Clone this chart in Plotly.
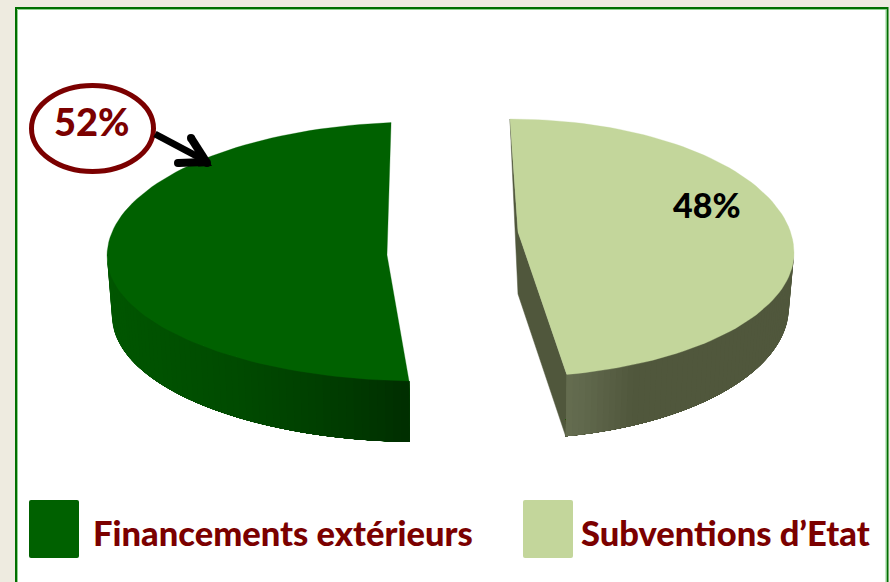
import math
import plotly.graph_objects as go

CATEGORIES = ["Financements extérieurs", "Subventions d’Etat"]
VALUES = [52, 48]
TOP_COLORS = ["#006100", "#C3D69B"]
WALL_RAMPS = [
    [(0.0, (0, 86, 0)), (0.45, (0, 74, 0)), (0.8, (0, 58, 0)), (1.0, (0, 46, 0))],
    [(0.0, (101, 109, 80)), (0.08, (96, 104, 76)), (0.3, (80, 87, 60)), (1.0, (80, 87, 60))],
]
CUT_COLOR = "#50573C"

# projected pie geometry (pixels of the 890x582 page)
GEOM = [
    dict(cx=420, cy=256, rx=313, back=134, front=125, lcx=420, lcy=316, lrx=308, lback=126, lfront=126,
         start=-5.3, direction=-1, squeeze=0.9225, apex=(387, 255), depth=62, wall_from=-90),
    dict(cx=510, cy=253, rx=284, back=134, front=124, lcx=510, lcy=307, lrx=279, lback=132, lfront=132,
         start=0.0, direction=1, squeeze=0.975, apex=(518, 232), depth=62, wall_from=90),
]
STEPS = 90
BANDS = 60


def pt(cx, cy, rx, back, front, deg):
    a = math.radians(deg)
    c = math.cos(a)
    return cx + rx * math.sin(a), cy - (back if c > 0 else front) * c


def ramp(stops, f):
    for (f0, c0), (f1, c1) in zip(stops, stops[1:]):
        if f <= f1:
            t = (f - f0) / (f1 - f0)
            return "rgb(%d,%d,%d)" % tuple(round(a + (b - a) * t) for a, b in zip(c0, c1))
    return "rgb(%d,%d,%d)" % stops[-1][1]


def poly(points, color, lw=0.0):
    xs = [p[0] for p in points] + [points[0][0]]
    ys = [p[1] for p in points] + [points[0][1]]
    return go.Scatter(x=xs, y=ys, mode="lines", fill="toself", fillcolor=color,
                      line=dict(color=color, width=lw), hoverinfo="skip", showlegend=False)


fig = go.Figure()
total = sum(VALUES)
for i, v in enumerate(VALUES):
    g = GEOM[i]
    sweep = v / total * 360 * g["squeeze"] * g["direction"]
    a0, a1 = g["start"], g["start"] + sweep
    top = (g["cx"], g["cy"], g["rx"], g["back"], g["front"])
    low = (g["lcx"], g["lcy"], g["lrx"], g["lback"], g["lfront"])
    s_top = pt(*top, a0)
    e_top = pt(*top, a1)
    e_low = pt(*low, a1)
    ax, ay = g["apex"]
    if i == 1:
        fig.add_trace(poly([s_top, (ax, ay), e_top, e_low, (ax, ay + g["depth"])], CUT_COLOR, 0.5))
    # outer wall: bands painted over a longer neighbour so no seams show
    w0, w1 = g["wall_from"], a1
    xmin, xmax = pt(*low, w0)[0], pt(*low, w1)[0]
    for b in range(BANDS):
        d0 = w0 + (w1 - w0) * b / BANDS
        mid_x = pt(*low, w0 + (w1 - w0) * (b + 0.5) / BANDS)[0]
        f = (mid_x - xmin) / (xmax - xmin)
        if i == 1:
            f = 1 - f
        n = 12
        tops = [pt(*top, d0 + (w1 - d0) * k / n) for k in range(n + 1)]
        lows = [pt(*low, d0 + (w1 - d0) * k / n) for k in range(n + 1)]
        fig.add_trace(poly(tops + lows[::-1], ramp(WALL_RAMPS[i], f)))
    arc = [pt(*top, a0 + (a1 - a0) * k / STEPS) for k in range(STEPS + 1)]
    fig.add_trace(poly(arc + [(ax, ay)], TOP_COLORS[i], lw=0.3))

# arrow from the 52% callout
fig.add_trace(go.Scatter(x=[155, 204], y=[134, 160], mode="lines",
                         line=dict(color="black", width=7), hoverinfo="skip", showlegend=False))
fig.add_trace(go.Scatter(x=[191, 207], y=[138, 163], mode="lines+markers",
                         line=dict(color="black", width=8), marker=dict(color="black", size=8),
                         hoverinfo="skip", showlegend=False))
fig.add_trace(go.Scatter(x=[178, 205], y=[163, 162], mode="lines+markers",
                         line=dict(color="black", width=8), marker=dict(color="black", size=8),
                         hoverinfo="skip", showlegend=False))
fig.add_trace(poly([(212, 166), (198, 166.5), (203, 152)], "black"))


def rrect(x0, y0, x1, y1, r=2):
    return (f"M{x0+r},{y0} L{x1-r},{y0} Q{x1},{y0} {x1},{y0+r} L{x1},{y1-r} Q{x1},{y1} {x1-r},{y1} "
            f"L{x0+r},{y1} Q{x0},{y1} {x0},{y1-r} L{x0},{y0+r} Q{x0},{y0} {x0+r},{y0} Z")


shapes = [
    dict(type="rect", x0=16, y0=8, x1=887.5, y1=600, line=dict(color="#006F00", width=2),
         fillcolor="white", layer="below"),
    dict(type="rect", x0=17.5, y0=9.5, x1=886, y1=600, line=dict(color="#8FD08F", width=1),
         fillcolor="rgba(0,0,0,0)", layer="below"),
    dict(type="circle", x0=31.5, y0=85.5, x1=153.5, y1=171.5, line=dict(color="#7B0000", width=5),
         fillcolor="white", layer="below"),
    dict(type="path", path=rrect(29, 500, 79, 558), fillcolor=TOP_COLORS[0], line=dict(width=0)),
    dict(type="path", path=rrect(523, 500, 573, 558), fillcolor=TOP_COLORS[1], line=dict(width=0)),
]

FONT = "Lato, sans-serif"
annotations = [
    dict(x=92, y=120.5, text=f"{VALUES[0]}%", font=dict(family=FONT, size=38, color="#7B0000", weight=900)),
    dict(x=707, y=204.5, text=f"{VALUES[1]}%", font=dict(family=FONT, size=34, color="black", weight=900)),
    dict(x=282.5, y=532, text=CATEGORIES[0], font=dict(family=FONT, size=34.5, color="#7B0000", weight=900)),
    dict(x=725, y=532, text=CATEGORIES[1], font=dict(family=FONT, size=34.5, color="#7B0000", weight=900)),
]
for a in annotations:
    a.update(xref="x", yref="y", showarrow=False, xanchor="center", yanchor="middle")

fig.update_layout(
    width=890, height=582, autosize=False,
    margin=dict(l=0, r=0, t=0, b=0),
    paper_bgcolor="#EEEBE0", plot_bgcolor="rgba(0,0,0,0)",
    showlegend=False, shapes=shapes, annotations=annotations,
    xaxis=dict(range=[0, 890], visible=False, fixedrange=True),
    yaxis=dict(range=[582, 0], visible=False, fixedrange=True),
)
fig.write_html("out.html", config={"displayModeBar": False},
               post_script="document.body.style.margin='0';document.body.style.overflow='hidden';")
